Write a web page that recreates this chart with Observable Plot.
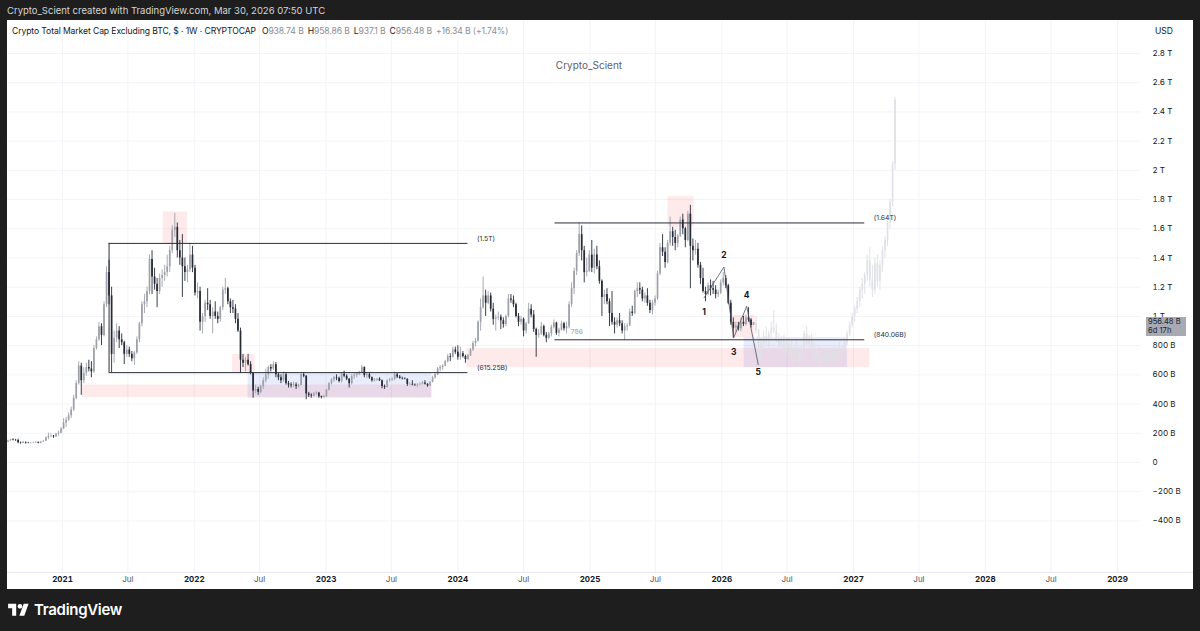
<!DOCTYPE html>
<html><head><meta charset="utf-8">
<script src="https://cdn.jsdelivr.net/npm/d3@7"></script>
<script src="https://cdn.jsdelivr.net/npm/@observablehq/plot@0.6"></script>
<style>
html,body{margin:0;padding:0;background:#1e1e1e;width:1200px;height:631px;overflow:hidden;font-family:Inter,"Liberation Sans",sans-serif;}
#banner{position:absolute;left:7px;top:5px;font-size:9.5px;color:#d6d6d6;white-space:nowrap;}
#panel{position:absolute;left:7px;top:20px;width:1186px;height:569px;background:#fff;overflow:hidden;}
#panel svg{position:absolute;left:0;top:0;}
#header{position:absolute;left:5px;top:6px;font-size:8.6px;color:#131722;white-space:nowrap;letter-spacing:-0.1px}
#header .v{color:#8a8d96}
#header .k{margin-left:4px}
#usd{position:absolute;left:1148px;top:6px;font-size:8.5px;color:#131722}
#wm{position:absolute;left:482px;width:200px;text-align:center;top:39px;font-size:10px;color:#5d606b}
#sep{position:absolute;left:0;width:1186px;height:1px;background:#e6e8ee}
#tag{position:absolute;left:1139px;width:40px;height:19px;background:#a7aab2;color:#1e222d;font-size:7.6px;line-height:9px;padding-left:2px;box-sizing:border-box}
#logo{position:absolute;left:8px;top:600px;display:flex;align-items:center;color:#fff;font-weight:600;font-size:15px;letter-spacing:-0.3px}
#logo svg{margin-right:5px}
</style></head><body>
<div id="banner">Crypto_Scient created with TradingView.com, Mar 30, 2026 07:50 UTC</div>
<div id="panel">
  <div id="header"></div>
  <div id="usd">USD</div>
  <div id="wm">Crypto_Scient</div>
</div>
<div id="logo"><svg width="21" height="15" viewBox="0 0 36 26"><path fill="#fff" d="M14 24H7V11H0V3h14v21zM28 24h-8.5L27 3h8.5L28 24z"/><circle fill="#fff" cx="20.5" cy="7.5" r="4"/></svg>TradingView</div>
<script>
// ---------------- DATA (values in billions USD) ----------------
const symbolTitle = "Crypto Total Market Cap Excluding BTC, $ · 1W · CRYPTOCAP";
const lastOHLC = {O: "938.74 B", H: "958.86 B", L: "937.1 B", C: "956.48 B", chg: "+16.34 B (+1.74%)"};
const firstWeek = "2020-08-03";
const firstOpen = 140;

const close = [
148,155,152,150,135,132,138,133,132,133,135,138,132,140,145,170,178,180,175,195,200,230,
270,290,320,360,440,540,660,560,610,650,640,620,780,840,930,870,1080,1300,1140,740,
850,900,840,820,740,770,740,710,750,840,950,1080,1100,1170,1390,1270,
1220,1170,1260,1280,1300,1340,1450,1590,1610,1450,1400,1340,1300,1320,1420,1330,
1160,1170,960,1000,1090,1080,1000,1030,1000,980,1060,1180,1190,1100,1060,1050,980,900,700,
680,700,670,610,490,500,480,520,560,600,650,640,670,600,580,560,600,540,530,525,
530,520,528,600,590,470,460,455,470,475,450,445,450,
495,540,565,580,575,555,605,590,570,540,590,595,605,615,650,595,600,580,560,565,
570,560,520,515,560,565,570,600,585,575,572,570,535,535,530,528,532,535,545,535,
525,548,580,600,640,650,660,690,725,720,770,755,
720,745,725,705,730,770,815,830,960,1060,1140,1090,1140,1050,980,990,995,970,945,1000,
1120,1110,1080,1000,960,980,900,950,1050,1010,910,870,880,930,870,850,880,925,955,885,
905,950,915,930,1080,1190,1310,1430,1560,1450,1300,1310,
1420,1330,1420,1340,1240,1130,1150,1100,1020,960,940,970,950,900,930,935,1030,1020,1170,1190,
1180,1120,1140,1090,1040,1090,1120,1290,1470,1440,1370,1500,1580,1540,1500,1550,1660,1600,1520,1700,
1480,1450,1460,1350,1260,1170,1150,1210,1190,1180,1150,1160,
1230,1260,1210,1090,960,920,935,915,960,945,990,975,938.74,956.48
];
const high = [
152,160,162,158,160,140,145,140,138,137,140,142,140,145,150,175,200,195,185,200,215,240,
300,310,340,380,460,560,690,680,650,680,700,690,800,860,960,950,1100,1340,1385,1200,
900,950,930,880,830,800,790,760,760,860,960,1100,1150,1200,1420,1450,
1330,1260,1290,1320,1350,1420,1480,1620,1705,1640,1520,1560,1400,1350,1500,1480,
1350,1230,1200,1020,1110,1190,1110,1060,1100,1030,1070,1200,1260,1200,1120,1110,1080,1020,920,
740,720,740,690,615,530,515,530,580,640,660,670,690,685,610,600,620,615,555,545,
550,545,535,615,610,595,480,470,480,485,480,455,460,
500,545,575,590,600,585,615,625,600,575,600,610,615,625,665,655,615,610,585,575,
575,580,565,530,565,575,580,620,610,595,585,580,572,545,560,538,540,545,555,560,
540,555,590,610,650,665,670,700,740,745,790,790,
800,790,760,735,740,780,830,850,970,1120,1270,1180,1170,1160,1090,1010,1030,1010,990,1010,
1150,1150,1140,1090,1020,1000,990,960,1090,1080,1040,920,910,960,940,890,890,940,975,960,
920,965,960,960,1100,1230,1330,1450,1640,1620,1480,1400,
1450,1520,1460,1480,1380,1250,1180,1190,1120,1170,990,990,1020,970,950,950,1050,1070,1180,1230,
1230,1200,1160,1190,1110,1110,1140,1310,1500,1560,1470,1520,1680,1610,1590,1560,1680,1700,1610,1720,
1760,1530,1520,1500,1370,1330,1200,1230,1250,1240,1210,1180,
1250,1300,1280,1220,1110,990,960,960,990,1000,1010,1060,985,958.86
];
const low = [
136,145,148,145,128,125,130,126,128,127,130,130,128,128,138,143,155,170,165,172,180,195,
225,240,280,300,350,430,530,460,540,590,620,580,610,770,830,800,860,1060,1080,615,
680,820,780,800,670,720,720,690,665,740,820,930,1020,1060,1150,1150,
1180,1060,1150,1200,1240,1270,1300,1430,1540,1400,1350,1130,1240,1230,1300,1300,
1140,1120,900,880,960,1040,980,880,980,950,960,1040,1150,1080,1020,1020,950,890,610,
650,620,660,600,440,470,460,470,500,545,570,620,630,580,560,540,550,530,510,510,
515,500,510,525,580,430,445,440,450,460,440,435,438,
445,490,530,550,560,545,545,580,560,510,530,570,580,595,610,580,575,570,550,550,
555,555,505,500,510,550,555,560,575,570,565,565,520,525,525,520,515,525,530,530,
515,520,545,570,595,620,630,655,680,690,715,740,
700,700,715,680,700,725,760,790,825,900,1050,1000,1080,1030,940,900,970,910,920,930,
990,1090,1060,990,930,940,860,880,945,990,890,720,850,870,860,820,840,860,915,870,
860,900,900,880,915,1060,1150,1280,1410,1380,1230,1270,
1300,1300,1290,1320,1220,1000,1080,1080,930,940,880,920,930,880,835,900,930,1000,1010,1130,
1150,1100,1090,1070,1020,1010,1070,1110,1280,1410,1330,1360,1480,1480,1450,1470,1540,1560,1470,1510,
1190,1380,1420,1330,1220,1160,1100,1140,1140,1150,1120,1130,
1150,1210,1190,1080,940,850,890,900,895,930,935,960,920,937.1
];
// projected (ghost) candles that follow the last real week
const ghostClose = [900,740,820,860,830,880,920,900,840,800,830,760,810,780,720,780,760,690,780,880,
810,850,790,730,760,690,720,700,740,690,750,720,770,740,780,820,880,940,1000,1050,
1100,1180,1220,1280,1380,1250,1180,1360,1240,1350,1450,1520,1640,1780,2040,2480];
const ghostHigh = [1000,910,850,900,930,900,960,1040,950,880,860,870,840,850,830,800,830,790,800,900,
930,870,880,820,780,800,740,780,760,780,770,800,790,820,800,840,900,960,1020,1070,
1130,1200,1260,1300,1420,1470,1350,1400,1420,1380,1480,1550,1660,1800,2060,2500];
const ghostLow = [880,660,700,780,800,760,850,880,820,760,740,720,740,760,700,660,740,650,670,760,
790,780,760,700,680,660,650,680,660,670,660,700,690,720,700,740,800,860,920,960,
1020,1060,1120,1150,1240,1200,1130,1150,1200,1180,1300,1400,1480,1600,1750,2000];

// drawings
const levels = [
  {from:"2021-05-10", to:"2024-01-29", value:1500,   label:"(1.5T)"},
  {from:"2021-05-10", to:"2024-01-29", value:615.25, label:"(615.25B)"},
  {from:"2024-09-26", to:"2027-02-01", value:1640,   label:"(1.64T)"},
  {from:"2024-09-26", to:"2027-02-01", value:840.06, label:"(840.06B)"}
];
const boxEdge = [{date:"2021-05-10", low:615.25, high:1500}];
const pinkZones = [
  {x1:"2021-10-07", x2:"2021-12-13", y1:1500, y2:1715},
  {x1:"2021-02-25", x2:"2023-10-21", y1:445,  y2:530},
  {x1:"2022-04-17", x2:"2022-06-18", y1:610,  y2:740},
  {x1:"2024-01-26", x2:"2027-02-15", y1:650,  y2:780},
  {x1:"2025-08-05", x2:"2025-10-16", y1:1610, y2:1820},
  {x1:"2026-01-30", x2:"2026-04-03", y1:856,  y2:1007}
];
const blueZones = [
  {x1:"2022-05-30", x2:"2023-10-21", y1:440, y2:615.25},
  {x1:"2026-03-04", x2:"2026-12-15", y1:650, y2:856}
];
const wavePath = [
  {date:"2025-11-13", value:1128}, {date:"2026-01-07", value:1338},
  {date:"2026-02-03", value:854},  {date:"2026-03-11", value:1069},
  {date:"2026-04-12", value:670}
];
const waveLabels = [
  {date:"2025-11-13", value:1027, text:"1"}, {date:"2026-01-07", value:1418, text:"2"},
  {date:"2026-02-03", value:753,  text:"3"}, {date:"2026-03-11", value:1144, text:"4"},
  {date:"2026-04-12", value:616,  text:"5"}
];
const fibNote = [{date:"2024-11-09", value:897, text:"786"}];
const yTicks = [-400,-200,0,200,400,600,800,1000,1200,1400,1600,1800,2000,2200,2400,2600,2800];
const yearTicks = ["2021","2022","2023","2024","2025","2026","2027","2028","2029"];
const julTicks = ["2021","2022","2023","2024","2025","2026","2027","2028"];
const xDomain = ["2021-01-01","2029-01-01"];
const yDomain = [0, 2800];

// ---------------- BUILD ----------------
const D = s => new Date(s + "T00:00:00Z");
const start = D(firstWeek);
const weekDate = i => d3.utcDay.offset(start, 7 * i);
const candles = close.map((c, i) => ({date: weekDate(i), open: i ? close[i-1] : firstOpen, high: high[i], low: low[i], close: c}));
const ghosts = ghostClose.map((c, i) => ({date: weekDate(close.length + i), open: i ? ghostClose[i-1] : close[close.length-1], high: ghostHigh[i], low: ghostLow[i], close: c}));
const up = candles.filter(d => d.close >= d.open), down = candles.filter(d => d.close < d.open);
const lv = levels.map(d => ({...d, from: D(d.from), to: D(d.to)}));
const zone = z => z.map(d => ({...d, x1: D(d.x1), x2: D(d.x2)}));
const pts = a => a.map(d => ({...d, date: D(d.date)}));
const yearDates = yearTicks.map(y => D(y + "-01-01"));
const julDates = julTicks.map(y => D(y + "-07-01"));
const fmtY = v => v === 0 ? "0" : Math.abs(v) >= 1000 ? (v / 1000) + " T" : (v < 0 ? "\u2212" + (-v) : v) + " B";

const upC = "#9ea1a9", downC = "#262a35", ghostC = "#e0e1e6";
const chart = Plot.plot({
  width: 1186, height: 569,
  marginLeft: 0, marginRight: 53, marginTop: 0, marginBottom: 17,
  style: {fontFamily: "Inter, 'Liberation Sans', sans-serif", background: "transparent", overflow: "visible"},
  x: {type: "utc", domain: xDomain.map(D), range: [55, 1110]},
  y: {domain: yDomain, range: [442, 33]},
  marks: [
    Plot.ruleX([...yearDates, ...julDates], {stroke: "#f2f4f8"}),
    Plot.ruleY(yTicks, {stroke: "#f2f4f8"}),
    Plot.rect(zone(pinkZones), {x1: "x1", x2: "x2", y1: "y1", y2: "y2", fill: "#f23645", fillOpacity: 0.11}),
    Plot.rect(zone(blueZones), {x1: "x1", x2: "x2", y1: "y1", y2: "y2", fill: "#4a5fd6", fillOpacity: 0.12}),
    Plot.ruleX(ghosts, {x: "date", y1: "low", y2: "high", stroke: ghostC, strokeWidth: 1}),
    Plot.ruleX(ghosts, {x: "date", y1: "open", y2: "close", stroke: ghostC, strokeWidth: 1.7}),
    Plot.ruleX(up, {x: "date", y1: "low", y2: "high", stroke: upC, strokeWidth: 0.9}),
    Plot.ruleX(up, {x: "date", y1: "open", y2: "close", stroke: upC, strokeWidth: 1.7}),
    Plot.ruleX(down, {x: "date", y1: "low", y2: "high", stroke: downC, strokeWidth: 0.9}),
    Plot.ruleX(down, {x: "date", y1: "open", y2: "close", stroke: downC, strokeWidth: 1.7}),
    Plot.ruleY(lv, {y: "value", x1: "from", x2: "to", stroke: "#2a2e39", strokeWidth: 1}),
    Plot.ruleX(pts(boxEdge), {x: "date", y1: "low", y2: "high", stroke: "#2a2e39", strokeWidth: 1}),
    Plot.text(lv, {x: "to", y: "value", text: "label", dx: 9, dy: -5, textAnchor: "start", fontSize: 6.8, fill: "#2a2e39"}),
    Plot.text(pts(fibNote), {x: "date", y: "value", text: "text", textAnchor: "start", fontSize: 6.8, fill: "#9598a1"}),
    Plot.line(pts(wavePath), {x: "date", y: "value", stroke: "#50535e", strokeWidth: 0.8}),
    Plot.text(pts(waveLabels), {x: "date", y: "value", text: "text", fontSize: 8.5, fontWeight: "bold", fill: "#131722"}),
    Plot.axisY(yTicks, {anchor: "right", tickSize: 0, tickPadding: 12, textAnchor: "start", tickFormat: fmtY, fontSize: 8, color: "#131722"}),
    Plot.axisX(yearDates, {anchor: "bottom", tickSize: 0, tickPadding: 4, tickFormat: d3.utcFormat("%Y"), fontSize: 8, fontWeight: "bold", color: "#131722"}),
    Plot.axisX(julDates, {anchor: "bottom", tickSize: 0, tickPadding: 4, tickFormat: d3.utcFormat("%b"), fontSize: 8, color: "#50535e"})
  ]
});
const panel = document.getElementById("panel");
panel.insertBefore(chart, panel.firstChild);

// header
document.getElementById("header").innerHTML = symbolTitle +
  `<span class="k" style="margin-left:6px">O</span><span class="v">${lastOHLC.O}</span><span class="k">H</span><span class="v">${lastOHLC.H}</span>` +
  `<span class="k">L</span><span class="v">${lastOHLC.L}</span><span class="k">C</span><span class="v">${lastOHLC.C}</span>` +
  `<span class="v" style="margin-left:4px">${lastOHLC.chg}</span>`;

// time axis separator and last-price tag using the chart's own scales
const sep = document.createElement("div");
sep.id = "sep"; sep.style.top = "552px"; panel.appendChild(sep);
const py = chart.scale("y").apply(close[close.length - 1]);
const tag = document.createElement("div");
tag.id = "tag"; tag.style.top = (py - 5) + "px";
tag.innerHTML = "956.48 B<br>6d 17h";
panel.appendChild(tag);
</script>
</body></html>
